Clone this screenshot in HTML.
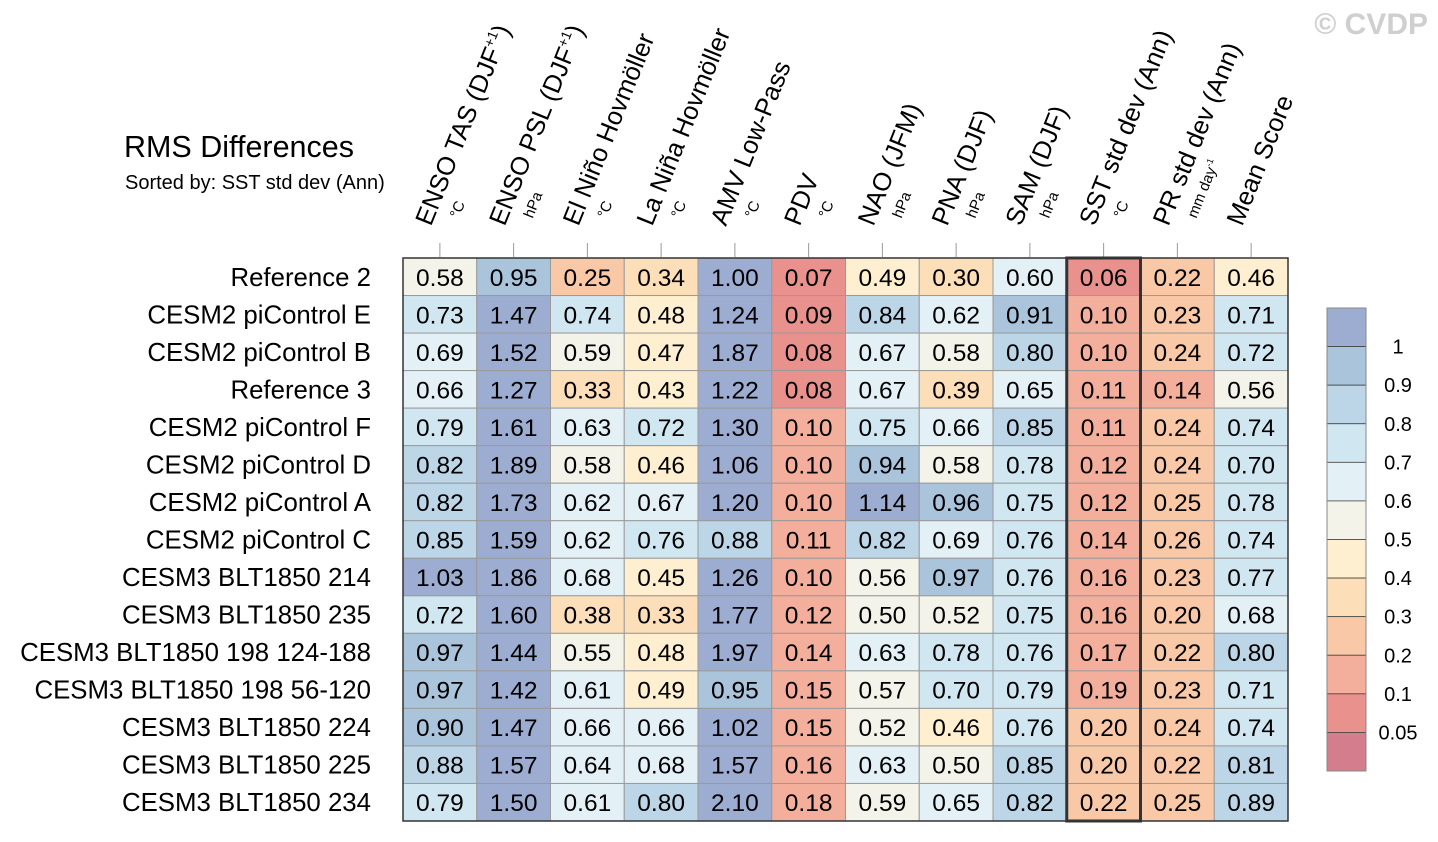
<!DOCTYPE html>
<html><head><meta charset="utf-8"><style>
html,body{margin:0;padding:0;background:#fff;}
svg{display:block;font-family:"Liberation Sans",Arial,sans-serif;}
</style></head><body>
<svg id="chart" width="1438" height="842" viewBox="0 0 1438 842" xmlns="http://www.w3.org/2000/svg">
<text x="1428" y="34" text-anchor="end" font-size="30" font-weight="bold" fill="#cfcfcf">© CVDP</text>
<text x="124" y="157" font-size="30.5" fill="#000">RMS Differences</text>
<text x="125" y="189" font-size="20" fill="#000">Sorted by: SST std dev (Ann)</text>
<g id="headers"></g><g id="rows"></g><g id="cells"></g><g id="cbar"></g>
</svg>
<script>
const columns = ["ENSO TAS (DJF+1)","ENSO PSL (DJF+1)","El Niño Hovmöller","La Niña Hovmöller","AMV Low-Pass","PDV","NAO (JFM)","PNA (DJF)","SAM (DJF)","SST std dev (Ann)","PR std dev (Ann)","Mean Score"];
const units = ["°C","hPa","°C","°C","°C","°C","hPa","hPa","hPa","°C","mm day-1",""];
const rowNames = ["Reference 2","CESM2 piControl E","CESM2 piControl B","Reference 3","CESM2 piControl F","CESM2 piControl D","CESM2 piControl A","CESM2 piControl C","CESM3 BLT1850 214","CESM3 BLT1850 235","CESM3 BLT1850 198 124-188","CESM3 BLT1850 198 56-120","CESM3 BLT1850 224","CESM3 BLT1850 225","CESM3 BLT1850 234"];
const values = [
[0.58,0.95,0.25,0.34,1.00,0.07,0.49,0.30,0.60,0.06,0.22,0.46],
[0.73,1.47,0.74,0.48,1.24,0.09,0.84,0.62,0.91,0.10,0.23,0.71],
[0.69,1.52,0.59,0.47,1.87,0.08,0.67,0.58,0.80,0.10,0.24,0.72],
[0.66,1.27,0.33,0.43,1.22,0.08,0.67,0.39,0.65,0.11,0.14,0.56],
[0.79,1.61,0.63,0.72,1.30,0.10,0.75,0.66,0.85,0.11,0.24,0.74],
[0.82,1.89,0.58,0.46,1.06,0.10,0.94,0.58,0.78,0.12,0.24,0.70],
[0.82,1.73,0.62,0.67,1.20,0.10,1.14,0.96,0.75,0.12,0.25,0.78],
[0.85,1.59,0.62,0.76,0.88,0.11,0.82,0.69,0.76,0.14,0.26,0.74],
[1.03,1.86,0.68,0.45,1.26,0.10,0.56,0.97,0.76,0.16,0.23,0.77],
[0.72,1.60,0.38,0.33,1.77,0.12,0.50,0.52,0.75,0.16,0.20,0.68],
[0.97,1.44,0.55,0.48,1.97,0.14,0.63,0.78,0.76,0.17,0.22,0.80],
[0.97,1.42,0.61,0.49,0.95,0.15,0.57,0.70,0.79,0.19,0.23,0.71],
[0.90,1.47,0.66,0.66,1.02,0.15,0.52,0.46,0.76,0.20,0.24,0.74],
[0.88,1.57,0.64,0.68,1.57,0.16,0.63,0.50,0.85,0.20,0.22,0.81],
[0.79,1.50,0.61,0.80,2.10,0.18,0.59,0.65,0.82,0.22,0.25,0.89]];
const levels = [0.05,0.1,0.2,0.3,0.4,0.5,0.6,0.7,0.8,0.9,1];
const levelLabels = ["0.05","0.1","0.2","0.3","0.4","0.5","0.6","0.7","0.8","0.9","1"];
const palette = ["#d37d8d","#e8918d","#f3af9c","#f9c9a7","#fcdfb9","#fdefcf","#f3f3e9","#e3f1f6","#d0e6f0","#bcd6e8","#aac4dc","#9dadd1"];
const sortCol = 9;

const NS="http://www.w3.org/2000/svg";
const X0=403,X1=1288,Y0=258,Y1=821;
const cw=(X1-X0)/columns.length, rh=(Y1-Y0)/rowNames.length;
const xc=i=>X0+cw*(i+0.5), yc=j=>Y0+rh*(j+0.5);
function mk(tag,attrs,parent){const e=document.createElementNS(NS,tag);for(const k in attrs)e.setAttribute(k,attrs[k]);parent.appendChild(e);return e;}
function colorOf(v){let k=0;while(k<levels.length&&v>=levels[k]-1e-9)k++;return palette[k];}
const gH=document.getElementById('headers'),gR=document.getElementById('rows'),gC=document.getElementById('cells'),gB=document.getElementById('cbar');
const ANG=-68;
columns.forEach((c,i)=>{
  const x=xc(i);
  const tk=mk('line',{x1:x,x2:x,y1:243,y2:257,stroke:'#999','stroke-width':1},gH);
  
  
  const t=mk('text',{transform:`translate(${x-9},227) rotate(${ANG})`,'font-size':25.5,fill:'#000'},gH);
  
  
  const m=c.match(/^(.*DJF)\+1(\))$/);
  if(m){t.textContent=m[1];const s=mk('tspan',{'font-size':14,dy:-10},t);s.textContent='+1';const s2=mk('tspan',{dy:10},t);s2.textContent=')';}
  else t.textContent=c;
  if(units[i]){
    const u=mk('text',{transform:`translate(${x+19},219) rotate(${ANG})`,'font-size':15,fill:'#000'},gH);
    
    
    if(units[i].endsWith('-1')){u.textContent='mm day';const s=mk('tspan',{'font-size':9,dy:-6},u);s.textContent='-1';}
    else u.textContent=units[i];
  }
});
rowNames.forEach((r,j)=>{
  const t=mk('text',{x:371,y:yc(j)+9,'text-anchor':'end','font-size':25.8,fill:'#000'},gR);
  
  
  t.textContent=r;
  values[j].forEach((v,i)=>{
    const rc=mk('rect',{x:X0+cw*i,y:Y0+rh*j,width:cw,height:rh,fill:colorOf(v),stroke:'#9a9a9a','stroke-width':1},gC);
    
    
    const tv=mk('text',{x:xc(i),y:yc(j)+9,'text-anchor':'middle','font-size':24.5,fill:'#000'},gC);
    
    
    tv.textContent=v.toFixed(2);
  });
});
const ob=mk('rect',{x:X0,y:Y0,width:X1-X0,height:Y1-Y0,fill:'none',stroke:'#333','stroke-width':1.5},gC);


const sb=mk('rect',{x:X0+cw*sortCol,y:Y0,width:cw,height:Y1-Y0,fill:'none',stroke:'#333','stroke-width':3},gC);


const CX=1327,CW=39,CT=308,CB=771,bh=(CB-CT)/palette.length;
palette.slice().reverse().forEach((col,k)=>{
  const r=mk('rect',{x:CX,y:CT+bh*k,width:CW,height:bh,fill:col,stroke:'#444','stroke-width':0.8},gB);
  
  
});
const cbo=mk('rect',{x:CX,y:CT,width:CW,height:CB-CT,fill:'none',stroke:'#888','stroke-width':1},gB);


levelLabels.slice().reverse().forEach((l,k)=>{
  const t=mk('text',{x:1398,y:CT+bh*(k+1)+7,'text-anchor':'middle','font-size':20,fill:'#000'},gB);
  
  
  t.textContent=l;
});
</script>
</body></html>
